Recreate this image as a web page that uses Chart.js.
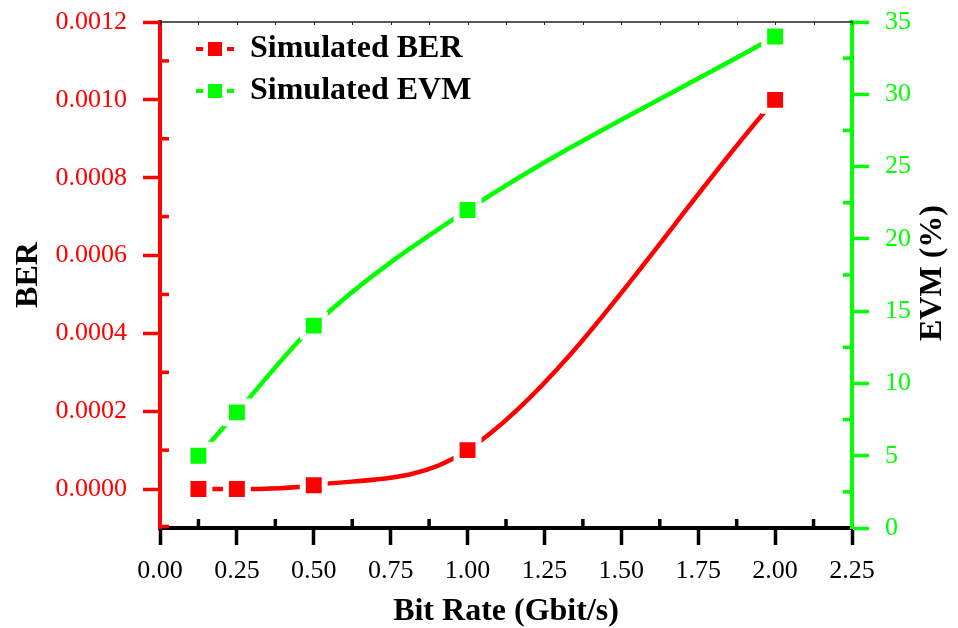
<!DOCTYPE html>
<html lang="en">
<head>
    <meta charset="UTF-8">
    <meta name="viewport" content="width=device-width, initial-scale=1.0">
    <script src="https://cdn.jsdelivr.net/npm/chart.js"></script>
    <title>BER / EVM</title>
    <style>
        html, body { margin: 0; padding: 0; background: #fff; }
        .grafico { width: 958px; height: 628px; }
    </style>
</head>
<body>
<div class="grafico">
    <canvas id="myChart" width="958" height="628"></canvas>
</div>

<script>
    // valores
    const bitRate = [0.125, 0.25, 0.5, 1.0, 2.0];
    const berSimulado = [0.0, 0.0, 0.00001, 0.0001, 0.001];
    const evmSimulado = [5, 8, 14, 22, 34];

    const xTicks = [0, 0.25, 0.5, 0.75, 1.0, 1.25, 1.5, 1.75, 2.0, 2.25];
    const xMinorTicks = [0.125, 0.375, 0.625, 0.875, 1.125, 1.375, 1.625, 1.875, 2.125];
    const berTicks = [0, 0.0002, 0.0004, 0.0006, 0.0008, 0.0010, 0.0012];
    const berMinorTicks = [-0.0001, 0.0001, 0.0003, 0.0005, 0.0007, 0.0009, 0.0011];
    const evmTicks = [0, 5, 10, 15, 20, 25, 30, 35];
    const evmMinorTicks = [2.5, 7.5, 12.5, 17.5, 22.5, 27.5, 32.5];

    const VERMELHO = '#FF0000';
    const VERDE = '#00FF00';
    const FONTE = "'Liberation Serif', 'Times New Roman', serif";

    function iconeLegenda(cor) {
        const c = document.createElement('canvas');
        c.width = 38;
        c.height = 16;
        const ctx = c.getContext('2d');
        ctx.fillStyle = cor;
        ctx.fillRect(0, 6, 7, 4);
        ctx.fillRect(12, 1, 14, 14);
        ctx.fillRect(31, 6, 7, 4);
        return c;
    }
    const icones = [iconeLegenda(VERMELHO), iconeLegenda(VERDE)];

    function pontos(ys) {
        return bitRate.map((x, i) => ({ x: x, y: ys[i] }));
    }

    // eixo y sem folga extra em cima/embaixo
    function larguraFixa(largura) {
        return s => {
            s.width = largura;
            s.paddingTop = 0;
            s.paddingBottom = 0;
        };
    }

    // ticks menores, borda de cima e titulo da direita
    const extras = {
        id: 'extras',
        afterLayout(chart) {
            chart.legend.left = chart.chartArea.left + 26;
            chart.legend.top = chart.chartArea.top + 1;
        },
        afterDraw(chart) {
            const ctx = chart.ctx;
            const area = chart.chartArea;
            const sx = chart.scales.x, sy = chart.scales.y, sy1 = chart.scales.y1;
            ctx.save();

            ctx.strokeStyle = '#222';
            ctx.lineWidth = 1.5;
            ctx.beginPath();
            ctx.moveTo(area.left, area.top);
            ctx.lineTo(area.right, area.top);
            ctx.stroke();
            ctx.lineWidth = 1;
            xTicks.concat(xMinorTicks).forEach(v => {
                const px = Math.round(sx.getPixelForValue(v)) + 0.5;
                ctx.beginPath();
                ctx.moveTo(px, area.top);
                ctx.lineTo(px, area.top + 3);
                ctx.stroke();
            });

            ctx.lineWidth = 3.5;
            ctx.strokeStyle = '#000';
            xMinorTicks.forEach(v => {
                const px = sx.getPixelForValue(v);
                ctx.beginPath();
                ctx.moveTo(px, area.bottom);
                ctx.lineTo(px, area.bottom - 9);
                ctx.stroke();
            });

            ctx.strokeStyle = VERMELHO;
            berMinorTicks.forEach(v => {
                const py = sy.getPixelForValue(v) - (v < 0 ? 1.5 : 0);
                ctx.beginPath();
                ctx.moveTo(area.left, py);
                ctx.lineTo(area.left + 9, py);
                ctx.stroke();
            });

            ctx.strokeStyle = VERDE;
            evmMinorTicks.forEach(v => {
                const py = sy1.getPixelForValue(v);
                ctx.beginPath();
                ctx.moveTo(area.right, py);
                ctx.lineTo(area.right - 9, py);
                ctx.stroke();
            });

            ctx.translate(933, (area.top + area.bottom) / 2 - 2);
            ctx.rotate(-Math.PI / 2);
            ctx.fillStyle = '#000';
            ctx.font = "bold 32px " + FONTE;
            ctx.textAlign = 'center';
            ctx.textBaseline = 'middle';
            ctx.fillText('EVM (%)', 0, 0);
            ctx.restore();
        }
    };

    const config = {
        type: 'line',
        data: {
            datasets: [{
                label: 'Simulated BER',
                data: pontos(berSimulado),
                yAxisID: 'y',
                borderColor: VERMELHO,
                backgroundColor: VERMELHO,
                borderWidth: 4.5,
                cubicInterpolationMode: 'monotone',
                pointStyle: 'rect',
                pointRadius: 15.5,
                pointBackgroundColor: VERMELHO,
                pointBorderColor: '#fff',
                pointBorderWidth: 6,
                fill: false
            }, {
                label: 'Simulated EVM',
                data: pontos(evmSimulado),
                yAxisID: 'y1',
                borderColor: VERDE,
                backgroundColor: VERDE,
                borderWidth: 4.5,
                cubicInterpolationMode: 'monotone',
                pointStyle: 'rect',
                pointRadius: 15.5,
                pointBackgroundColor: VERDE,
                pointBorderColor: '#fff',
                pointBorderWidth: 6,
                fill: false
            }]
        },
        options: {
            responsive: false,
            animation: false,
            events: [],
            layout: { autoPadding: false, padding: { top: 22, left: 0, right: 0, bottom: 0 } },
            plugins: {
                tooltip: { enabled: false },
                legend: {
                    position: 'chartArea',
                    align: 'start',
                    labels: {
                        usePointStyle: true,
                        pointStyleWidth: 38,
                        padding: 10,
                        color: '#000',
                        font: { family: FONTE, size: 32, weight: 'bold' },
                        generateLabels(chart) {
                            const itens = Chart.defaults.plugins.legend.labels.generateLabels(chart);
                            itens.forEach((it, i) => { it.pointStyle = icones[i]; });
                            return itens;
                        }
                    }
                }
            },
            scales: {
                x: {
                    type: 'linear',
                    position: 'bottom',
                    min: 0,
                    max: 2.25,
                    afterBuildTicks: s => { s.ticks = xTicks.map(v => ({ value: v })); },
                    afterFit: s => { s.height = 100; },
                    ticks: {
                        color: '#000',
                        padding: 11,
                        font: { family: FONTE, size: 26 },
                        callback: v => v.toFixed(2)
                    },
                    grid: { drawOnChartArea: false, tickLength: 17, tickWidth: 3.5, tickColor: '#000' },
                    border: { color: '#000', width: 4 },
                    title: {
                        display: true,
                        text: 'Bit Rate (Gbit/s)',
                        color: '#000',
                        padding: { top: 0, bottom: 0 },
                        font: { family: FONTE, size: 32, weight: 'bold', lineHeight: 1.0 }
                    }
                },
                y: {
                    type: 'linear',
                    position: 'left',
                    min: -0.0001,
                    max: 0.0012,
                    afterBuildTicks: s => { s.ticks = berTicks.map(v => ({ value: v })); },
                    afterFit: larguraFixa(160),
                    ticks: {
                        color: VERMELHO,
                        padding: 16,
                        font: { family: FONTE, size: 26 },
                        callback: v => v.toFixed(4)
                    },
                    grid: { drawOnChartArea: false, tickLength: 17, tickWidth: 3.5, tickColor: VERMELHO },
                    border: { color: VERMELHO, width: 4 },
                    title: {
                        display: true,
                        text: 'BER',
                        color: '#000',
                        padding: { top: 10, bottom: 0 },
                        font: { family: FONTE, size: 32, weight: 'bold' }
                    }
                },
                y1: {
                    type: 'linear',
                    position: 'right',
                    min: 0,
                    max: 35,
                    afterBuildTicks: s => { s.ticks = evmTicks.map(v => ({ value: v })); },
                    afterFit: larguraFixa(106),
                    ticks: {
                        color: VERDE,
                        padding: 16,
                        font: { family: FONTE, size: 26 }
                    },
                    grid: { drawOnChartArea: false, tickLength: 17, tickWidth: 3.5, tickColor: VERDE },
                    border: { color: VERDE, width: 4 }
                }
            }
        },
        plugins: [extras]
    };

    let myChart = new Chart(document.getElementById('myChart'), config);
</script>
</body>
</html>
